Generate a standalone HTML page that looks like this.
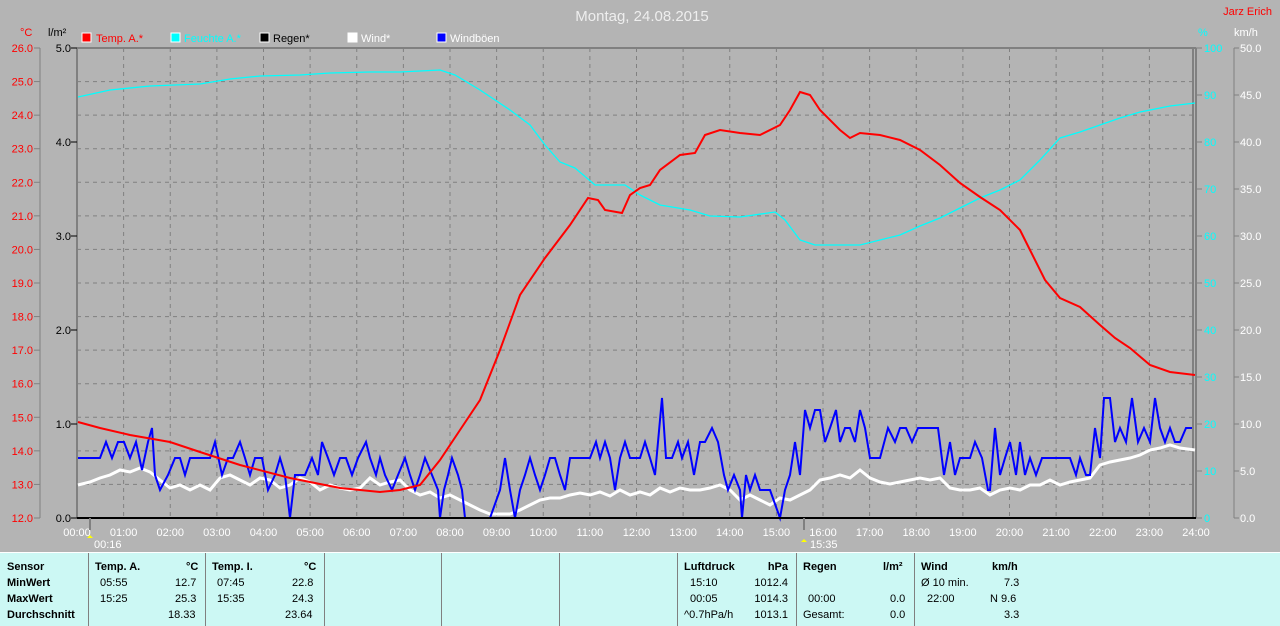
<!DOCTYPE html>
<html><head><meta charset="utf-8"><style>
body{margin:0;background:#b4b4b4;width:1280px;height:625px;overflow:hidden;font-family:"Liberation Sans",sans-serif}
svg{position:absolute;left:0;top:0}
.tb{position:absolute;left:0;top:552px;width:1280px;height:73px;background:#ccf8f4;border-top:1px solid #fff}
.c{position:absolute;top:0;height:73px;border-left:1px solid #808080}
.t{position:absolute;font-size:11px;color:#000;white-space:nowrap}
.b{font-weight:bold}
</style></head><body>
<svg width="1280" height="552" font-family="Liberation Sans" font-size="11">
<text x="642" y="21" fill="#eee" font-size="15" text-anchor="middle">Montag, 24.08.2015</text>
<text x="1272" y="15" fill="#f00" text-anchor="end">Jarz Erich</text>
<text x="20" y="36" fill="#f00">°C</text><text x="48" y="36" fill="#000">l/m²</text>
<text x="1198" y="36" fill="#0ff">%</text><text x="1234" y="36" fill="#fff">km/h</text>
<g><rect x="82" y="33" width="9" height="9" fill="#f00" stroke="#fff"/><text x="96" y="42" fill="#f00">Temp. A.*</text>
<rect x="171" y="33" width="9" height="9" fill="#0ff" stroke="#fff"/><text x="184" y="42" fill="#0ff">Feuchte A.*</text>
<rect x="260" y="33" width="9" height="9" fill="#000" stroke="#fff"/><text x="273" y="42" fill="#000">Regen*</text>
<rect x="348" y="33" width="9" height="9" fill="#fff" stroke="#fff"/><text x="361" y="42" fill="#fff">Wind*</text>
<rect x="437" y="33" width="9" height="9" fill="#00f" stroke="#fff"/><text x="450" y="42" fill="#fff">Windböen</text></g>
<g stroke="#808080" stroke-dasharray="4,4" stroke-width="1" id="grid"></g>
<line x1="40" y1="48" x2="40" y2="518" stroke="#808080"/>
<line x1="1234" y1="48" x2="1234" y2="518" stroke="#808080"/>
<line x1="77" y1="48" x2="1196" y2="48" stroke="#808080" stroke-width="2"/>
<line x1="77" y1="48" x2="77" y2="518" stroke="#808080" stroke-width="2"/>
<line x1="1193" y1="48" x2="1193" y2="518" stroke="#808080" stroke-width="2"/>
<line x1="1196" y1="48" x2="1196" y2="518" stroke="#808080" stroke-width="2"/>
<g id="lab"></g>
<polyline fill="none" stroke="#0ff" stroke-width="1.3" points="78,97 110,90 150,86 200,84 230,79 260,76 300,75 330,73 370,72 400,72 440,70 455,75 480,90 510,110 530,125 545,145 560,162 575,168 595,185 625,185 640,195 660,205 690,210 710,216 740,217 775,212 785,220 800,240 815,245 860,245 880,240 900,235 920,226 940,218 960,208 980,198 1000,190 1020,180 1040,160 1060,138 1080,132 1100,125 1120,118 1140,112 1170,106 1195,103"/>
<polyline fill="none" stroke="#fff" stroke-width="3" points="78,485 90,482 100,478 110,475 120,470 130,472 140,468 150,472 160,480 170,488 180,485 190,490 200,485 210,490 220,478 230,475 240,480 250,485 260,478 270,480 280,488 290,485 300,478 310,482 320,490 330,485 340,488 350,490 360,488 370,478 380,485 390,482 400,480 410,490 420,495 430,492 440,498 450,495 460,500 470,505 480,510 490,514 500,514 510,514 520,510 530,505 540,500 550,498 560,498 570,495 580,493 590,495 600,492 610,496 620,490 630,495 640,492 650,495 660,488 670,492 680,488 690,490 700,490 710,488 720,485 730,490 740,500 750,495 760,500 770,505 780,498 790,500 800,495 810,490 820,480 830,478 840,475 850,478 860,470 870,478 880,482 890,484 900,482 910,480 920,478 930,480 940,478 950,488 960,490 970,490 980,488 990,495 1000,490 1010,488 1020,490 1030,485 1040,485 1050,480 1060,485 1070,482 1080,480 1090,478 1100,465 1110,462 1120,460 1130,458 1140,455 1150,450 1160,448 1170,445 1180,448 1195,450"/>
<polyline fill="none" stroke="#00f" stroke-width="2" points="78,458 100,458 106,442 112,458 118,442 124,442 130,458 136,442 142,470 148,442 152,428 155,475 160,490 168,475 175,458 180,458 185,475 190,458 200,458 210,458 215,442 222,475 228,458 233,458 240,442 245,458 250,475 255,458 262,458 268,490 275,475 280,458 285,475 290,518 295,475 305,475 312,458 318,475 322,442 328,458 334,475 340,458 346,458 352,475 358,458 366,442 370,458 376,475 380,458 385,475 392,490 398,475 405,458 410,475 415,490 420,475 425,458 432,475 438,490 440,518 444,490 448,475 452,458 458,475 462,490 465,518 490,518 500,490 505,458 510,490 515,518 520,490 525,475 530,458 535,475 540,490 545,475 550,458 555,458 560,475 565,490 570,458 590,458 596,442 600,458 605,442 610,458 615,490 620,458 625,442 630,458 640,458 645,442 650,458 655,475 658,442 662,398 666,458 672,458 678,442 682,458 688,442 694,475 700,442 705,442 712,428 718,442 724,475 728,490 734,475 740,490 742,518 746,475 750,490 755,475 760,490 770,490 780,518 785,490 790,475 795,442 800,475 805,410 810,428 815,410 820,410 825,442 830,428 836,410 840,442 845,428 850,428 855,442 860,410 865,428 870,458 880,458 888,428 895,442 900,428 906,428 912,442 918,428 938,428 944,475 950,442 955,475 960,458 970,458 975,442 982,458 988,490 990,490 995,428 1000,475 1005,458 1010,442 1016,475 1020,442 1025,475 1030,458 1036,475 1042,458 1070,458 1076,475 1080,458 1086,475 1090,475 1095,428 1100,458 1104,398 1110,398 1115,442 1120,428 1126,442 1132,398 1138,442 1144,428 1150,442 1155,398 1160,428 1165,442 1170,428 1175,442 1180,442 1186,428 1192,428"/>
<polyline fill="none" stroke="#f00" stroke-width="2" points="78,422 100,428 130,435 170,442 200,452 240,465 290,478 340,488 380,492 400,490 420,485 440,460 460,430 480,400 500,350 520,295 545,258 570,225 588,198 598,200 605,210 622,213 630,195 640,188 650,185 660,170 680,155 695,153 705,135 720,130 740,133 760,135 780,125 790,110 800,92 810,95 820,110 840,130 850,138 860,133 880,135 900,140 920,150 940,165 960,183 980,197 1000,210 1020,230 1030,250 1045,280 1060,298 1080,307 1100,325 1115,338 1130,348 1150,365 1170,372 1195,375"/>
<line x1="77" y1="518" x2="1196" y2="518" stroke="#000" stroke-width="2"/>
<line x1="90" y1="518" x2="90" y2="530" stroke="#808080" stroke-width="2"/>
<line x1="804" y1="518" x2="804" y2="530" stroke="#808080" stroke-width="2"/>
<text x="94" y="548" fill="#fff">00:16</text><text x="810" y="548" fill="#fff">15:35</text>
<path d="M87,538 l3,-3 l3,3 z" fill="#ff0"/><path d="M801,542 l3,-3 l3,3 z" fill="#ff0"/>
</svg>
<script>
var g=document.getElementById('grid'),l=document.getElementById('lab'),ns='http://www.w3.org/2000/svg';
function el(p,t,a,txt){var e=document.createElementNS(ns,t);for(var k in a)e.setAttribute(k,a[k]);if(txt!==undefined)e.textContent=txt;p.appendChild(e);return e;}
for(var h=1;h<24;h++){var x=77+h*46.625;el(g,'line',{x1:x,y1:48,x2:x,y2:518});}
for(var t=13;t<26;t++){var y=48+(26-t)*470/14;el(g,'line',{x1:77,y1:y,x2:1193,y2:y});}
for(var t=12;t<=26;t++){var y=48+(26-t)*470/14;el(l,'text',{x:33,y:y+4,fill:'#f00','text-anchor':'end'},t.toFixed(1));el(l,'line',{x1:34,y1:y,x2:40,y2:y,stroke:'#808080'});}
for(var i=0;i<=5;i++){var y=518-i*94;el(l,'text',{x:71,y:y+4,fill:'#000','text-anchor':'end'},i.toFixed(1));el(l,'line',{x1:71,y1:y,x2:77,y2:y,stroke:'#000'});}
for(var i=0;i<=10;i++){var y=518-i*47;el(l,'text',{x:1204,y:y+4,fill:'#0ff'},String(i*10));el(l,'line',{x1:1196,y1:y,x2:1202,y2:y,stroke:'#808080'});
el(l,'text',{x:1240,y:y+4,fill:'#fff'},(i*5).toFixed(1));el(l,'line',{x1:1234,y1:y,x2:1239,y2:y,stroke:'#808080'});}
for(var h=0;h<=24;h++){var x=77+h*46.625;el(l,'text',{x:x,y:536,fill:'#fff','text-anchor':'middle'},(h<10?'0':'')+h+':00');}
</script>
<div class="tb">
<div class="c" style="left:88px"></div><div class="c" style="left:205px"></div><div class="c" style="left:324px"></div><div class="c" style="left:441px"></div><div class="c" style="left:559px"></div><div class="c" style="left:677px"></div><div class="c" style="left:796px"></div><div class="c" style="left:914px"></div>
<div class="t b" style="left:7px;top:8px">Sensor</div><div class="t b" style="left:7px;top:24px">MinWert</div><div class="t b" style="left:7px;top:40px">MaxWert</div><div class="t b" style="left:7px;top:56px">Durchschnitt</div>
<div class="t b" style="left:95px;top:8px">Temp. A.</div><div class="t b" style="left:186px;top:8px">°C</div>
<div class="t" style="left:100px;top:24px">05:55</div><div class="t" style="left:175px;top:24px">12.7</div>
<div class="t" style="left:100px;top:40px">15:25</div><div class="t" style="left:175px;top:40px">25.3</div>
<div class="t" style="left:168px;top:56px">18.33</div>
<div class="t b" style="left:212px;top:8px">Temp. I.</div><div class="t b" style="left:304px;top:8px">°C</div>
<div class="t" style="left:217px;top:24px">07:45</div><div class="t" style="left:292px;top:24px">22.8</div>
<div class="t" style="left:217px;top:40px">15:35</div><div class="t" style="left:292px;top:40px">24.3</div>
<div class="t" style="left:285px;top:56px">23.64</div>
<div class="t b" style="left:684px;top:8px">Luftdruck</div><div class="t b" style="right:492px;top:8px">hPa</div>
<div class="t" style="left:690px;top:24px">15:10</div><div class="t" style="right:492px;top:24px">1012.4</div>
<div class="t" style="left:690px;top:40px">00:05</div><div class="t" style="right:492px;top:40px">1014.3</div>
<div class="t" style="left:684px;top:56px">^0.7hPa/h</div><div class="t" style="right:492px;top:56px">1013.1</div>
<div class="t b" style="left:803px;top:8px">Regen</div><div class="t b" style="left:883px;top:8px">l/m²</div>
<div class="t" style="left:808px;top:40px">00:00</div><div class="t" style="left:890px;top:40px">0.0</div>
<div class="t" style="left:803px;top:56px">Gesamt:</div><div class="t" style="left:890px;top:56px">0.0</div>
<div class="t b" style="left:921px;top:8px">Wind</div><div class="t b" style="left:992px;top:8px">km/h</div>
<div class="t" style="left:921px;top:24px">Ø 10 min.</div><div class="t" style="left:1004px;top:24px">7.3</div>
<div class="t" style="left:927px;top:40px">22:00</div><div class="t" style="left:990px;top:40px">N 9.6</div>
<div class="t" style="left:1004px;top:56px">3.3</div>
</div>
</body></html>
